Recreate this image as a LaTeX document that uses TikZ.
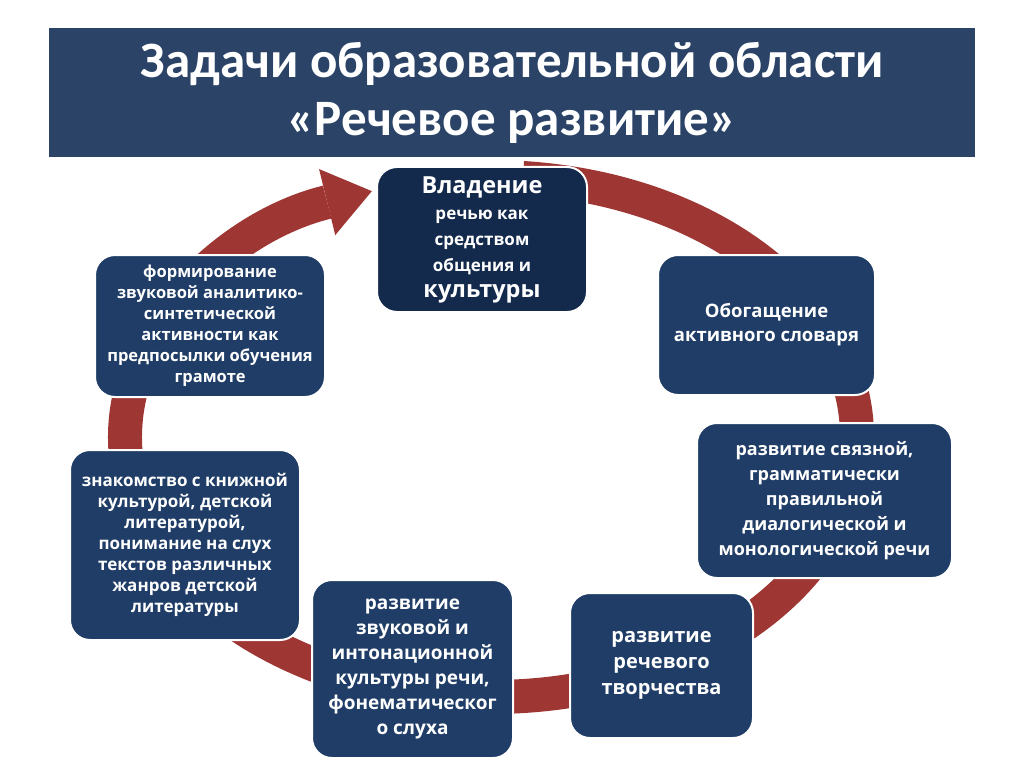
\documentclass[tikz,border=0pt]{standalone}
\usepackage{fontspec}
\setmainfont{Open Sans}
\newfontfamily\titlefont{Carlito}
\usetikzlibrary{arrows.meta, calc}
\definecolor{banner}{HTML}{2A4366}
\definecolor{boxblue}{HTML}{1F3D66}
\definecolor{boxdark}{HTML}{142A4C}
\definecolor{ringred}{HTML}{9E3634}

\begin{document}
\begin{tikzpicture}[x=1pt,y=-1pt,
    task/.style={rectangle,rounded corners=20pt,fill=boxblue,draw=white,
      line width=2pt,align=center,text=white,inner sep=3pt},
    titlebar/.style={rectangle,fill=banner,text=white,align=center,
      minimum width=926pt,minimum height=129pt,
      font=\titlefont\bfseries\fontsize{51}{58}\selectfont},
    ring/.style={ringred,line width=34pt,
      -{Triangle[width=68pt,length=46pt,line width=0pt]}}]
  \useasboundingbox (0,0) rectangle (1024,767);
  \node[titlebar] (title) at (512,92.5) {Задачи образовательной области\\«Речевое развитие»};
  % red ring behind the boxes
  \coordinate (hub) at (491,437);
  \coordinate (ringstart) at ($(hub)+(-85:366 and 260)$);
  \draw[ring] (ringstart) arc[start angle=-85,end angle=251,x radius=366,y radius=260];
  % tasks
  \node[task,fill=boxdark,minimum width=210pt,minimum height=145pt,
    font=\bfseries\fontsize{17}{26}\selectfont] (speech) at (482,239.5)
    {{\fontsize{23.5}{26}\selectfont Владение}\\речью как\\средством\\общения и\\{\fontsize{23.5}{26}\selectfont культуры}};
  \node[task,minimum width=217pt,minimum height=140pt,
    font=\bfseries\fontsize{18.5}{24}\selectfont] (vocab) at (766.5,325)
    {Обогащение\\активного словаря};
  \node[task,minimum width=255pt,minimum height=155pt,
    font=\bfseries\fontsize{18}{25}\selectfont] (grammar) at (824.5,500.5)
    {развитие связной,\\грамматически\\правильной\\диалогической и\\монологической речи};
  \node[task,minimum width=183pt,minimum height=145pt,
    font=\bfseries\fontsize{20}{26}\selectfont] (creative) at (661.5,665.5)
    {развитие\\речевого\\творчества};
  \node[task,minimum width=201pt,minimum height=178pt,
    font=\bfseries\fontsize{19}{25}\selectfont] (phonetic) at (412.5,669)
    {развитие\\звуковой и\\интонационной\\культуры речи,\\фонематическог\\о слуха};
  \node[task,minimum width=230pt,minimum height=190pt,
    font=\bfseries\fontsize{17}{21}\selectfont] (books) at (185,545)
    {знакомство с книжной\\культурой, детской\\литературой,\\понимание на слух\\текстов различных\\жанров детской\\литературы};
  \node[task,minimum width=230pt,minimum height=142pt,
    font=\bfseries\fontsize{16.5}{21}\selectfont] (sound) at (210,326)
    {формирование\\звуковой аналитико-\\синтетической\\активности как\\предпосылки обучения\\грамоте};
\end{tikzpicture}
\end{document}
